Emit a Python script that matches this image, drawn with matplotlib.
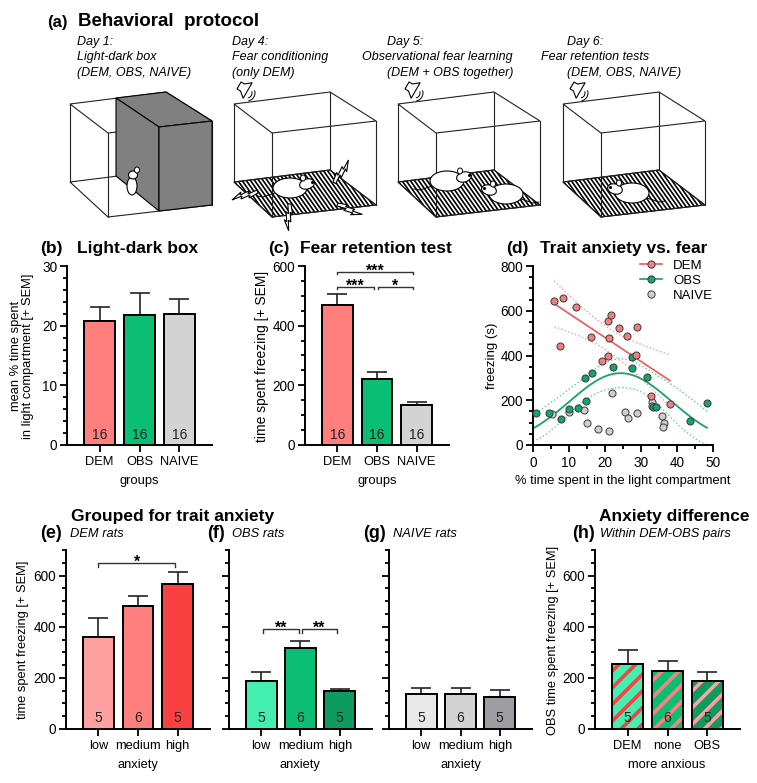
import numpy as np
import matplotlib
matplotlib.use("Agg")
import matplotlib.pyplot as plt
from matplotlib.lines import Line2D
from matplotlib.patches import Polygon, Ellipse, Arc
from matplotlib.ticker import MultipleLocator

plt.rcParams["font.family"] = ["Liberation Sans", "DejaVu Sans"]
plt.rcParams["hatch.linewidth"] = 2.6

W, H = 757, 783

# ---- values ----
groups = ["DEM", "OBS", "NAIVE"]
ldb_mean = [20.7, 21.8, 21.9]
ldb_sem = [2.4, 3.6, 2.6]
ldb_n = [16, 16, 16]

frt_mean = [470, 222, 133]
frt_sem = [36, 24, 12]
frt_n = [16, 16, 16]

dem_light = [5.9, 8.4, 11.9, 7.4, 16.2, 20.7, 21.6, 21.0, 23.8, 26.1, 28.8, 19.2, 20.7, 28.5, 32.8, 38.0]
dem_freeze = [645, 656, 618, 443, 481, 553, 583, 478, 522, 489, 526, 376, 399, 402, 218, 182]
obs_light = [0.7, 4.4, 7.9, 9.9, 12.6, 14.8, 14.5, 16.5, 22.2, 27.6, 27.4, 31.7, 33.2, 34.2, 43.6, 48.3]
obs_freeze = [145, 145, 116, 162, 164, 198, 298, 322, 347, 343, 392, 306, 168, 171, 109, 186]
naive_light = [5.4, 9.9, 14.1, 15.0, 18.1, 21.0, 22.0, 25.6, 26.4, 28.9, 33.0, 33.0, 35.8, 36.5, 36.1]
naive_freeze = [140, 149, 158, 100, 73, 63, 231, 149, 122, 142, 194, 176, 128, 97, 80]

levels = ["low", "medium", "high"]
level_n = [5, 6, 5]
dem_lvl_mean = [361, 482, 567]
dem_lvl_sem = [73, 38, 48]
obs_lvl_mean = [188, 316, 147]
obs_lvl_sem = [36, 30, 10]
naive_lvl_mean = [136, 136, 127]
naive_lvl_sem = [23, 26, 24]

pairs = ["DEM", "none", "OBS"]
pair_mean = [253, 225, 188]
pair_sem = [56, 40, 36]
pair_n = [5, 6, 5]

# colours
RED, RED_L, RED_D = "#FF7F7F", "#FFA0A0", "#F94141"
GRN, GRN_L, GRN_D = "#0ABF74", "#44EDB0", "#0F9B5F"
GRY, GRY_L, GRY_D = "#D3D3D3", "#E8E8E8", "#9E9EA2"

fig = plt.figure(figsize=(W / 100, H / 100), dpi=100)


def px_axes(x0, y0, x1, y1):
    return fig.add_axes([x0 / W, 1 - y1 / H, (x1 - x0) / W, (y1 - y0) / H])


def ftext(x, y, s, **kw):
    kw.setdefault("va", "center")
    fig.text(x / W, 1 - y / H, s, **kw)


def style(ax):
    for s in ("top", "right"):
        ax.spines[s].set_visible(False)
    for s in ("left", "bottom"):
        ax.spines[s].set_linewidth(1.4)
    ax.tick_params(which="major", length=5, width=1.3)
    ax.tick_params(which="minor", length=3, width=1.3)
    ax.tick_params(axis="x", pad=3, labelsize=9.3)
    ax.tick_params(axis="y", pad=2, labelsize=9.8)


def bars(ax, means, sems, ns, colors, labels, top, major, minor, n_y, hatch=None):
    x = np.arange(len(means))
    if hatch is None:
        ax.bar(x, means, width=0.78, color=colors, edgecolor="black", linewidth=1.4, zorder=3)
    else:
        ax.bar(x, means, width=0.78, color=colors, edgecolor=hatch, hatch="//", linewidth=0, zorder=3)
        ax.bar(x, means, width=0.78, color="none", edgecolor="black", linewidth=1.4, zorder=3)
    ax.errorbar(x, means, yerr=[np.zeros(len(x)), sems], fmt="none", ecolor="#222222",
                elinewidth=1.2, capsize=7, capthick=1.2, zorder=2)
    for xi, n in zip(x, ns):
        ax.text(xi, n_y, str(n), ha="center", va="center", fontsize=10, color="#222222", zorder=4)
    ax.set_xlim(-0.82, 2.82)
    ax.set_ylim(0, top)
    ax.set_xticks(x, labels)
    ax.yaxis.set_major_locator(MultipleLocator(major))
    ax.yaxis.set_minor_locator(MultipleLocator(minor))
    style(ax)


def bracket(ax, x0, x1, y, label, drop):
    ax.plot([x0, x0, x1, x1], [y - drop, y, y, y - drop], color="#333333", lw=1.0, clip_on=False)
    ax.annotate(label, xy=((x0 + x1) / 2, y), xytext=(0, -3), textcoords="offset points",
                ha="center", va="baseline", fontsize=11.5, fontweight="bold", annotation_clip=False)


# ---------------- (a) illustration ----------------
ax_a = fig.add_axes([0, 0, 1, 1], zorder=-1)
ax_a.set_xlim(0, W)
ax_a.set_ylim(H, 0)
ax_a.axis("off")

box_left = [70, 234, 398, 563]
top_q = [(0, 104), (96, 92), (142, 121), (38, 133)]
bot_q = [(0, 182), (96, 170), (142, 205), (38, 217)]


def place(pts, x, y, ang):
    a = np.deg2rad(ang)
    p = np.array(pts, float)
    r = np.column_stack([p[:, 0] * np.cos(a) - p[:, 1] * np.sin(a),
                         p[:, 0] * np.sin(a) + p[:, 1] * np.cos(a)])
    return r + [x, y]


def draw_box(x0, floor):
    T = [(x0 + a, b) for a, b in top_q]
    B = [(x0 + a, b) for a, b in bot_q]
    if floor:
        fl = Polygon(B, closed=True, fc="white", ec="black", lw=0.8, zorder=1)
        ax_a.add_patch(fl)
        for c in np.arange(x0 - 70, x0 + 150, 4.2):
            ln, = ax_a.plot([c, c + 40], [165, 222], color="black", lw=1.2, zorder=1)
            ln.set_clip_path(fl)
    for P in (T, B):
        ax_a.add_patch(Polygon(P, closed=True, fill=False, ec="#222222", lw=0.8, zorder=2))
    for p, q in zip(T, B):
        ax_a.plot([p[0], q[0]], [p[1], q[1]], color="#222222", lw=0.8, zorder=2)


def rat(cx, cy, facing):
    ax_a.plot([cx - facing * 15, cx - facing * 27, cx - facing * 33], [cy + 5, cy + 9, cy + 8],
              color="black", lw=0.7, zorder=5)
    ax_a.add_patch(Ellipse((cx, cy), 34, 20, fc="white", ec="black", lw=0.8, zorder=5))
    ax_a.add_patch(Ellipse((cx + facing * 17, cy - 4), 15, 10, angle=-facing * 15,
                           fc="white", ec="black", lw=0.8, zorder=6))
    ax_a.add_patch(Ellipse((cx + facing * 13, cy - 10), 5, 6, fc="white", ec="black", lw=0.7, zorder=6))
    ax_a.plot(cx + facing * 22, cy - 6, marker="o", ms=1.2, color="black", zorder=7)


def speaker(x, y):
    cone = [(0, 0), (4, 0), (10, -5), (10, 13), (4, 8), (0, 8)]
    ax_a.add_patch(Polygon(place(cone, x, y, 30), closed=True, fc="white", ec="black", lw=0.8))
    for r in (5, 8):
        ax_a.add_patch(Arc((x + 6, y + 11), r * 2, r * 2, angle=30, theta1=-50, theta2=50,
                           color="black", lw=0.7))


bolt = [(0, 0), (9, -5), (8, -2), (17, -6), (16, -3), (26, -7), (17, 1), (18, -2), (9, 2), (10, -1), (1, 3)]

for i, x0 in enumerate(box_left):
    draw_box(x0, floor=i > 0)

# dark compartment of the light-dark box
x0 = box_left[0]
for face in ([(46, 98), (96, 92), (142, 121), (89, 127)],
             [(46, 98), (89, 127), (89, 211), (46, 176)],
             [(89, 127), (142, 121), (142, 205), (89, 211)]):
    ax_a.add_patch(Polygon([(x0 + a, b) for a, b in face], closed=True,
                           fc="#808080", ec="black", lw=0.8, zorder=3))
ax_a.add_patch(Ellipse((132, 186), 10, 18, fc="white", ec="black", lw=0.8, zorder=4))
ax_a.add_patch(Ellipse((133, 175), 9, 8, fc="white", ec="black", lw=0.8, zorder=4))
ax_a.add_patch(Ellipse((137, 170), 5, 6, fc="white", ec="black", lw=0.7, zorder=4))

# shocks in day 4 box
for bx, by, ang in ((258, 193, 180), (333, 182, -40), (291, 204, 110), (338, 203, 40)):
    ax_a.add_patch(Polygon(place(bolt, bx, by, ang), closed=True, fc="white", ec="black", lw=0.8, zorder=6))

rat(290, 188, 1)
rat(447, 181, 1)
rat(506, 194, -1)
rat(632, 193, -1)

for sx in (241, 409, 574):
    speaker(sx, 82)

ftext(47, 22, "(a)", fontsize=12, fontweight="bold")
ftext(78, 22, "Behavioral  protocol", fontsize=13.5, fontweight="bold")
day_text = [
    (77, 77, 77, "Day 1:", "Light-dark box", "(DEM, OBS, NAIVE)"),
    (232, 232, 232, "Day 4:", "Fear conditioning", "(only DEM)"),
    (387, 362, 387, "Day 5:", "Observational fear learning", "(DEM + OBS together)"),
    (567, 541, 567, "Day 6:", "Fear retention tests", "(DEM, OBS, NAIVE)"),
]
for xa, xb, xc, l1, l2, l3 in day_text:
    ftext(xa, 42, l1, fontsize=9, style="italic")
    ftext(xb, 57, l2, fontsize=9, style="italic")
    ftext(xc, 73, l3, fontsize=9, style="italic")

# ---------------- (b) light-dark box ----------------
ax_b = px_axes(67, 266, 212, 445)
bars(ax_b, ldb_mean, ldb_sem, ldb_n, [RED, GRN, GRY], groups, 30, 10, 2, 1.7)
ftext(40, 248, "(b)", fontsize=12.5, fontweight="bold")
ftext(77, 248, "Light-dark box", fontsize=12.5, fontweight="bold")
ftext(22, 356, "mean % time spent\nin light compartment [+ SEM]", fontsize=9.3,
      rotation=90, ha="center", linespacing=1.05)
ftext(139, 481, "groups", fontsize=9.3, ha="center")

# ---------------- (c) fear retention ----------------
ax_c = px_axes(305, 266, 449, 445)
bars(ax_c, frt_mean, frt_sem, frt_n, [RED, GRN, GRY], groups, 600, 200, 50, 34)
bracket(ax_c, 0, 1.9, 580, "***", 8)
bracket(ax_c, 0, 0.92, 530, "***", 8)
bracket(ax_c, 1.03, 1.9, 530, "*", 8)
ftext(268, 248, "(c)", fontsize=12.5, fontweight="bold")
ftext(300, 248, "Fear retention test", fontsize=12.5, fontweight="bold")
ftext(262, 356, "time spent freezing [+ SEM]", fontsize=10, rotation=90, ha="center")
ftext(377, 481, "groups", fontsize=9.3, ha="center")

# ---------------- (d) scatter ----------------
ax_d = px_axes(533, 266, 713, 445)
style(ax_d)
ax_d.set_xlim(0, 50)
ax_d.set_ylim(0, 800)
ax_d.xaxis.set_major_locator(MultipleLocator(10))
ax_d.xaxis.set_minor_locator(MultipleLocator(5))
ax_d.yaxis.set_major_locator(MultipleLocator(200))
ax_d.yaxis.set_minor_locator(MultipleLocator(50))
ax_d.tick_params(axis="x", labelsize=9.8)

DEM_PT, OBS_PT, NAI_PT, EDGE = "#F08080", "#12A56E", "#CFCFCF", "#3A3A3A"
DEM_LN, DEM_CI, OBS_LN, OBS_CI = "#F45656", "#F59C9C", "#12A56E", "#5FCE9D"

# linear fit with 95% confidence band for DEM
dx, dy = np.array(dem_light), np.array(dem_freeze)
slope, icpt = np.polyfit(dx, dy, 1)
xs = np.linspace(dx.min(), dx.max(), 100)
fit = icpt + slope * xs
s_res = np.sqrt(np.sum((dy - icpt - slope * dx) ** 2) / (len(dx) - 2))
half = 2.145 * s_res * np.sqrt(1 / len(dx) + (xs - dx.mean()) ** 2 / np.sum((dx - dx.mean()) ** 2))
ax_d.plot(xs, fit, color=DEM_LN, lw=1.2, zorder=2)
ax_d.plot(xs, fit + half, color=DEM_CI, lw=1.0, ls=":", zorder=2)
ax_d.plot(xs, fit - half, color=DEM_CI, lw=1.0, ls=":", zorder=2)

# gaussian fit with 95% confidence band for OBS
ox, oy = np.array(obs_light), np.array(obs_freeze)


def gauss_jac(x, p):
    a, m, s = p
    e = np.exp(-0.5 * ((x - m) / s) ** 2)
    return a * e, np.column_stack([e, a * e * (x - m) / s ** 2, a * e * (x - m) ** 2 / s ** 3])


p = np.array([320.0, 24.0, 14.0])
for _ in range(200):
    f, J = gauss_jac(ox, p)
    step = np.linalg.lstsq(J, oy - f, rcond=None)[0]
    p = p + step
    if np.max(np.abs(step)) < 1e-9:
        break
f, J = gauss_jac(ox, p)
s2 = np.sum((oy - f) ** 2) / (len(ox) - 3)
cov = s2 * np.linalg.inv(J.T @ J)
gx = np.linspace(0, ox.max(), 200)
gy, Jg = gauss_jac(gx, p)
ghalf = 2.160 * np.sqrt(np.einsum("ij,jk,ik->i", Jg, cov, Jg))
ax_d.plot(gx, gy, color=OBS_LN, lw=1.3, zorder=2)
ax_d.plot(gx, gy + ghalf, color=OBS_CI, lw=1.0, ls=":", zorder=2)
ax_d.plot(gx, gy - ghalf, color=OBS_CI, lw=1.0, ls=":", zorder=2)

ax_d.scatter(naive_light, naive_freeze, s=26, color=NAI_PT, edgecolor=EDGE, lw=0.7, zorder=3, clip_on=False)
ax_d.scatter(obs_light, obs_freeze, s=26, color=OBS_PT, edgecolor=EDGE, lw=0.7, zorder=4, clip_on=False)
ax_d.scatter(dem_light, dem_freeze, s=26, color=DEM_PT, edgecolor=EDGE, lw=0.7, zorder=5, clip_on=False)

handles = [
    Line2D([], [], color=DEM_LN, lw=1.2, marker="o", ms=5.2, mfc=DEM_PT, mec=EDGE, mew=0.7),
    Line2D([], [], color=OBS_LN, lw=1.2, marker="o", ms=5.2, mfc=OBS_PT, mec=EDGE, mew=0.7),
    Line2D([], [], ls="none", marker="o", ms=5.2, mfc=NAI_PT, mec=EDGE, mew=0.7),
]
ax_d.legend(handles, ["DEM", "OBS", "NAIVE"], loc="upper right", bbox_to_anchor=(1.0, 1.035),
            frameon=False, fontsize=9.5, handlelength=1.7, handletextpad=0.8, labelspacing=0.2,
            borderpad=0, borderaxespad=0)
ftext(506, 248, "(d)", fontsize=12.5, fontweight="bold")
ftext(540, 248, "Trait anxiety vs. fear", fontsize=12.5, fontweight="bold")
ftext(492, 356, "freezing (s)", fontsize=9.5, rotation=90, ha="center")
ftext(623, 481, "% time spent in the light compartment", fontsize=9.3, ha="center")

# ---------------- (e)-(g) grouped by trait anxiety ----------------
ax_e = px_axes(66, 550, 210, 729)
bars(ax_e, dem_lvl_mean, dem_lvl_sem, level_n, [RED_L, RED, RED_D], levels, 700, 200, 50, 42)
bracket(ax_e, 0, 1.94, 649, "*", 14)

ax_f = px_axes(229, 550, 372, 729)
bars(ax_f, obs_lvl_mean, obs_lvl_sem, level_n, [GRN_L, GRN, GRN_D], levels, 700, 200, 50, 42)
ax_f.tick_params(axis="y", labelleft=False)
bracket(ax_f, 0.05, 0.95, 391, "**", 14)
bracket(ax_f, 1.03, 1.93, 391, "**", 14)

ax_g = px_axes(389, 550, 532, 729)
bars(ax_g, naive_lvl_mean, naive_lvl_sem, level_n, [GRY_L, GRY, GRY_D], levels, 700, 200, 50, 42)
ax_g.tick_params(axis="y", labelleft=False)

ftext(71, 517, "Grouped for trait anxiety", fontsize=12.5, fontweight="bold")
for lx, tx, lab, sub in ((40, 70, "(e)", "DEM rats"), (207, 232, "(f)", "OBS rats"),
                          (363, 393, "(g)", "NAIVE rats")):
    ftext(lx, 534, lab, fontsize=13, fontweight="bold")
    ftext(tx, 534, sub, fontsize=9.3, style="italic")
ftext(23, 640, "time spent freezing [+ SEM]", fontsize=9.3, rotation=90, ha="center")
for cx in (138, 300, 461):
    ftext(cx, 765, "anxiety", fontsize=9.3, ha="center")

# ---------------- (h) anxiety difference ----------------
ax_h = px_axes(595, 550, 740, 729)
bars(ax_h, pair_mean, pair_sem, pair_n, [GRN_L, GRN, GRN_D], pairs, 700, 200, 50, 42,
     hatch=[RED_D, RED, RED_L])
ftext(599, 517, "Anxiety difference", fontsize=12.5, fontweight="bold")
ftext(572, 534, "(h)", fontsize=13, fontweight="bold")
ftext(600, 534, "Within DEM-OBS pairs", fontsize=9.3, style="italic")
ftext(553, 640, "OBS time spent freezing [+ SEM]", fontsize=9.3, rotation=90, ha="center")
ftext(667, 765, "more anxious", fontsize=9.3, ha="center")

fig.savefig("out.png", dpi=100)
